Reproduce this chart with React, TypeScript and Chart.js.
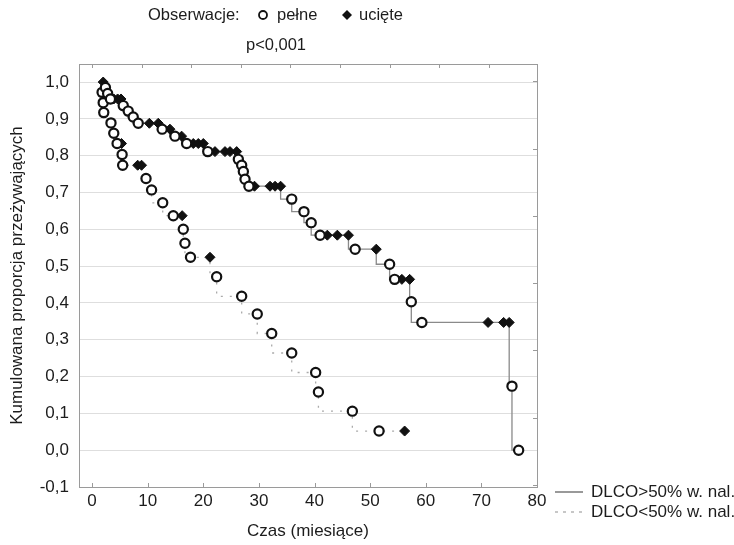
import React, { useEffect, useRef } from 'react';
import { Chart, registerables } from 'chart.js';

Chart.register(...registerables);

// ---- axis ticks ----
const X_TICKS = [0, 10, 20, 30, 40, 50, 60, 70, 80];
const Y_TICKS = [-0.1, 0, 0.1, 0.2, 0.3, 0.4, 0.5, 0.6, 0.7, 0.8, 0.9, 1.0];
const TOP_TICKS = [0, 10, 20, 30, 40, 50, 60, 70, 80];
const RIGHT_TICKS = [0, 1, 2, 3, 4, 5, 6];

// ---- DLCO>50% w. nal. (time in months, survival, 1 = event / 0 = censored) ----
const HIGH_TIMES = [2.0, 2.4, 2.8, 3.3, 3.9, 4.6, 5.2, 5.6, 6.5, 7.4, 8.3, 10.3, 11.9, 12.6, 14.0, 14.9, 16.1, 17.0, 18.2, 19.1, 20.0, 20.8, 22.1, 23.9, 24.8, 26.0, 26.3, 26.9, 27.2, 27.5, 28.2, 29.2, 32.0, 32.9, 33.9, 35.9, 38.1, 39.4, 41.0, 42.3, 44.1, 46.1, 47.3, 51.1, 53.5, 54.4, 55.7, 57.1, 57.4, 59.3, 71.2, 74.0, 75.0, 75.5, 76.7];
const HIGH_SURV = [1.0, 0.985, 0.969, 0.954, 0.954, 0.954, 0.954, 0.936, 0.921, 0.905, 0.888, 0.888, 0.888, 0.872, 0.872, 0.853, 0.853, 0.833, 0.833, 0.833, 0.833, 0.811, 0.811, 0.811, 0.811, 0.811, 0.790, 0.774, 0.757, 0.736, 0.717, 0.717, 0.717, 0.717, 0.717, 0.682, 0.648, 0.618, 0.584, 0.584, 0.584, 0.584, 0.546, 0.546, 0.505, 0.464, 0.464, 0.464, 0.403, 0.347, 0.347, 0.347, 0.347, 0.174, 0.0];
const HIGH_EVENT = [0, 1, 1, 1, 0, 0, 0, 1, 1, 1, 1, 0, 0, 1, 0, 1, 0, 1, 0, 0, 0, 1, 0, 0, 0, 0, 1, 1, 1, 1, 1, 0, 0, 0, 0, 1, 1, 1, 1, 0, 0, 0, 1, 0, 1, 1, 0, 0, 1, 1, 0, 0, 0, 1, 1];

// ---- DLCO<50% w. nal. ----
const LOW_START = 1.8;
const LOW_TIMES = [1.8, 2.0, 2.1, 3.4, 3.9, 4.5, 5.3, 5.4, 5.5, 8.2, 8.9, 9.7, 10.7, 12.7, 14.6, 16.2, 16.4, 16.7, 17.7, 21.2, 22.4, 26.9, 29.7, 32.3, 35.9, 40.2, 40.7, 46.8, 51.6, 56.2];
const LOW_SURV = [0.972, 0.944, 0.917, 0.889, 0.861, 0.833, 0.833, 0.803, 0.774, 0.774, 0.774, 0.738, 0.707, 0.672, 0.637, 0.637, 0.600, 0.562, 0.524, 0.524, 0.471, 0.418, 0.370, 0.317, 0.264, 0.211, 0.158, 0.106, 0.052, 0.052];
const LOW_EVENT = [1, 1, 1, 1, 1, 1, 0, 1, 1, 0, 0, 1, 1, 1, 1, 0, 1, 1, 1, 0, 1, 1, 1, 1, 1, 1, 1, 1, 1, 0];

const FONT = '"Liberation Sans", Arial, Helvetica, sans-serif';
const TEXT = '#1c1c1c';

const pts = (t: number[], s: number[]) => t.map((x, i) => ({ x, y: s[i] }));
const pick = (t: number[], s: number[], e: number[], flag: number) =>
  t.map((x, i) => ({ x, y: s[i], f: e[i] })).filter((p) => p.f === flag).map((p) => ({ x: p.x, y: p.y }));

const fmt = (v: number) => v.toFixed(1).replace('.', ',').replace('-0,0', '0,0');

const decor = {
  id: 'decor',
  afterDraw(chart: any) {
    const { ctx, chartArea: ca, scales } = chart;
    ctx.save();
    // inward tick marks
    ctx.strokeStyle = '#9a9a9a';
    ctx.lineWidth = 1;
    ctx.beginPath();
    X_TICKS.forEach((v) => {
      const px = Math.round(scales.x.getPixelForValue(v)) + 0.5;
      ctx.moveTo(px, ca.bottom);
      ctx.lineTo(px, ca.bottom - 4);
    });
    TOP_TICKS.forEach((v) => {
      const px = Math.round(scales.x2.getPixelForValue(v)) + 0.5;
      ctx.moveTo(px, ca.top);
      ctx.lineTo(px, ca.top + 4);
    });
    RIGHT_TICKS.forEach((v) => {
      const py = Math.round(scales.y2.getPixelForValue(v)) + 0.5;
      ctx.moveTo(ca.right, py);
      ctx.lineTo(ca.right - 4, py);
    });
    ctx.stroke();

    // top legend
    ctx.font = `16.5px ${FONT}`;
    ctx.fillStyle = TEXT;
    ctx.textBaseline = 'middle';
    ctx.textAlign = 'left';
    ctx.fillText('Obserwacje:', 148, 15);
    ctx.beginPath();
    ctx.arc(263, 15, 4, 0, Math.PI * 2);
    ctx.fillStyle = '#fff';
    ctx.fill();
    ctx.lineWidth = 1.8;
    ctx.strokeStyle = '#111';
    ctx.stroke();
    ctx.fillStyle = TEXT;
    ctx.fillText('pełne', 277, 15);
    ctx.beginPath();
    ctx.moveTo(347, 10);
    ctx.lineTo(352, 15);
    ctx.lineTo(347, 20);
    ctx.lineTo(342, 15);
    ctx.closePath();
    ctx.fillStyle = '#111';
    ctx.fill();
    ctx.fillStyle = TEXT;
    ctx.fillText('ucięte', 359, 15);
    ctx.textAlign = 'center';
    ctx.fillText('p<0,001', 276, 45);

    // bottom-right legend
    ctx.font = `17px ${FONT}`;
    ctx.textAlign = 'left';
    ctx.strokeStyle = '#999';
    ctx.lineWidth = 2;
    ctx.beginPath();
    ctx.moveTo(555, 492);
    ctx.lineTo(583, 492);
    ctx.stroke();
    ctx.strokeStyle = '#b5b5b5';
    ctx.lineWidth = 1.5;
    ctx.setLineDash([3, 5]);
    ctx.beginPath();
    ctx.moveTo(555, 512);
    ctx.lineTo(583, 512);
    ctx.stroke();
    ctx.setLineDash([]);
    ctx.fillStyle = TEXT;
    ctx.fillText('DLCO>50% w. nal.', 591, 492);
    ctx.fillText('DLCO<50% w. nal.', 591, 512);
    ctx.restore();
  },
};

export default function App() {
  const ref = useRef<HTMLCanvasElement | null>(null);

  useEffect(() => {
    if (!ref.current) return;
    const circle = {
      pointStyle: 'circle',
      pointRadius: 4.6,
      pointBorderWidth: 2.2,
      pointBorderColor: '#111',
      pointBackgroundColor: '#fff',
      showLine: false,
      order: 0,
    };
    const diamond = {
      pointStyle: 'rectRot',
      pointRadius: 5,
      pointBorderWidth: 1,
      pointBorderColor: '#111',
      pointBackgroundColor: '#111',
      showLine: false,
      order: 1,
    };
    const chart = new Chart(ref.current, {
      type: 'line',
      data: {
        datasets: [
          { label: 'high-events', data: pick(HIGH_TIMES, HIGH_SURV, HIGH_EVENT, 1), ...circle } as any,
          { label: 'low-events', data: pick(LOW_TIMES, LOW_SURV, LOW_EVENT, 1), ...circle } as any,
          { label: 'high-cens', data: pick(HIGH_TIMES, HIGH_SURV, HIGH_EVENT, 0), ...diamond } as any,
          { label: 'low-cens', data: pick(LOW_TIMES, LOW_SURV, LOW_EVENT, 0), ...diamond } as any,
          {
            label: 'DLCO>50% w. nal.',
            data: pts(HIGH_TIMES, HIGH_SURV),
            stepped: 'after',
            borderColor: '#8a8a8a',
            borderWidth: 1.3,
            pointRadius: 0,
            fill: false,
            order: 2,
          } as any,
          {
            label: 'DLCO<50% w. nal.',
            data: [{ x: LOW_START, y: 1.0 }, ...pts(LOW_TIMES, LOW_SURV)],
            stepped: 'after',
            borderColor: '#aaaaaa',
            borderWidth: 1.3,
            borderDash: [2, 7],
            pointRadius: 0,
            fill: false,
            order: 2,
          } as any,
        ],
      },
      options: {
        animation: false,
        responsive: false,
        devicePixelRatio: 1,
        layout: { padding: { top: 64, right: 197, bottom: 0, left: 0 } },
        plugins: { legend: { display: false }, tooltip: { enabled: false } },
        scales: {
          x: {
            type: 'linear',
            position: 'bottom',
            min: -2.35,
            max: 80,
            afterFit: (s: any) => { s.height = 58; },
            afterBuildTicks: (s: any) => { s.ticks = X_TICKS.map((v) => ({ value: v })); },
            grid: { drawOnChartArea: false, drawTicks: false },
            border: { display: true, color: '#9a9a9a', width: 1 },
            ticks: { color: TEXT, font: { family: FONT, size: 17 }, padding: 4, maxRotation: 0, autoSkip: false },
            title: { display: true, text: 'Czas (miesiące)', color: TEXT, font: { family: FONT, size: 17 }, padding: { top: 0, bottom: 3 } },
          },
          x2: {
            type: 'linear',
            position: 'top',
            min: -2.62,
            max: 89.7,
            afterFit: (s: any) => { s.height = 0; },
            afterBuildTicks: (s: any) => { s.ticks = TOP_TICKS.map((v) => ({ value: v })); },
            grid: { drawOnChartArea: false, drawTicks: false },
            border: { display: true, color: '#9a9a9a', width: 1 },
            ticks: { display: false },
          },
          y: {
            type: 'linear',
            position: 'left',
            min: -0.1,
            max: 1.049,
            afterFit: (s: any) => { s.width = 79; },
            afterBuildTicks: (s: any) => { s.ticks = Y_TICKS.map((v) => ({ value: v })); },
            grid: { color: '#dedede', lineWidth: 1, drawTicks: false },
            border: { display: true, color: '#9a9a9a', width: 1 },
            ticks: { color: TEXT, font: { family: FONT, size: 17 }, padding: 10, callback: (v: any) => fmt(Number(v)) },
            title: { display: true, text: 'Kumulowana proporcja przeżywających', color: TEXT, font: { family: FONT, size: 17 }, padding: { top: 7, bottom: 0 } },
          },
          y2: {
            type: 'linear',
            position: 'right',
            min: -0.03,
            max: 6.26,
            afterFit: (s: any) => { s.width = 0; },
            afterBuildTicks: (s: any) => { s.ticks = RIGHT_TICKS.map((v) => ({ value: v })); },
            grid: { drawOnChartArea: false, drawTicks: false },
            border: { display: true, color: '#9a9a9a', width: 1 },
            ticks: { display: false },
          },
        },
      } as any,
      plugins: [decor],
    });
    return () => chart.destroy();
  }, []);

  return (
    <div style={{ position: 'absolute', left: 0, top: 0, width: 734, height: 545, background: '#fff' }}>
      <canvas ref={ref} width={734} height={545} style={{ display: 'block' }} />
    </div>
  );
}
